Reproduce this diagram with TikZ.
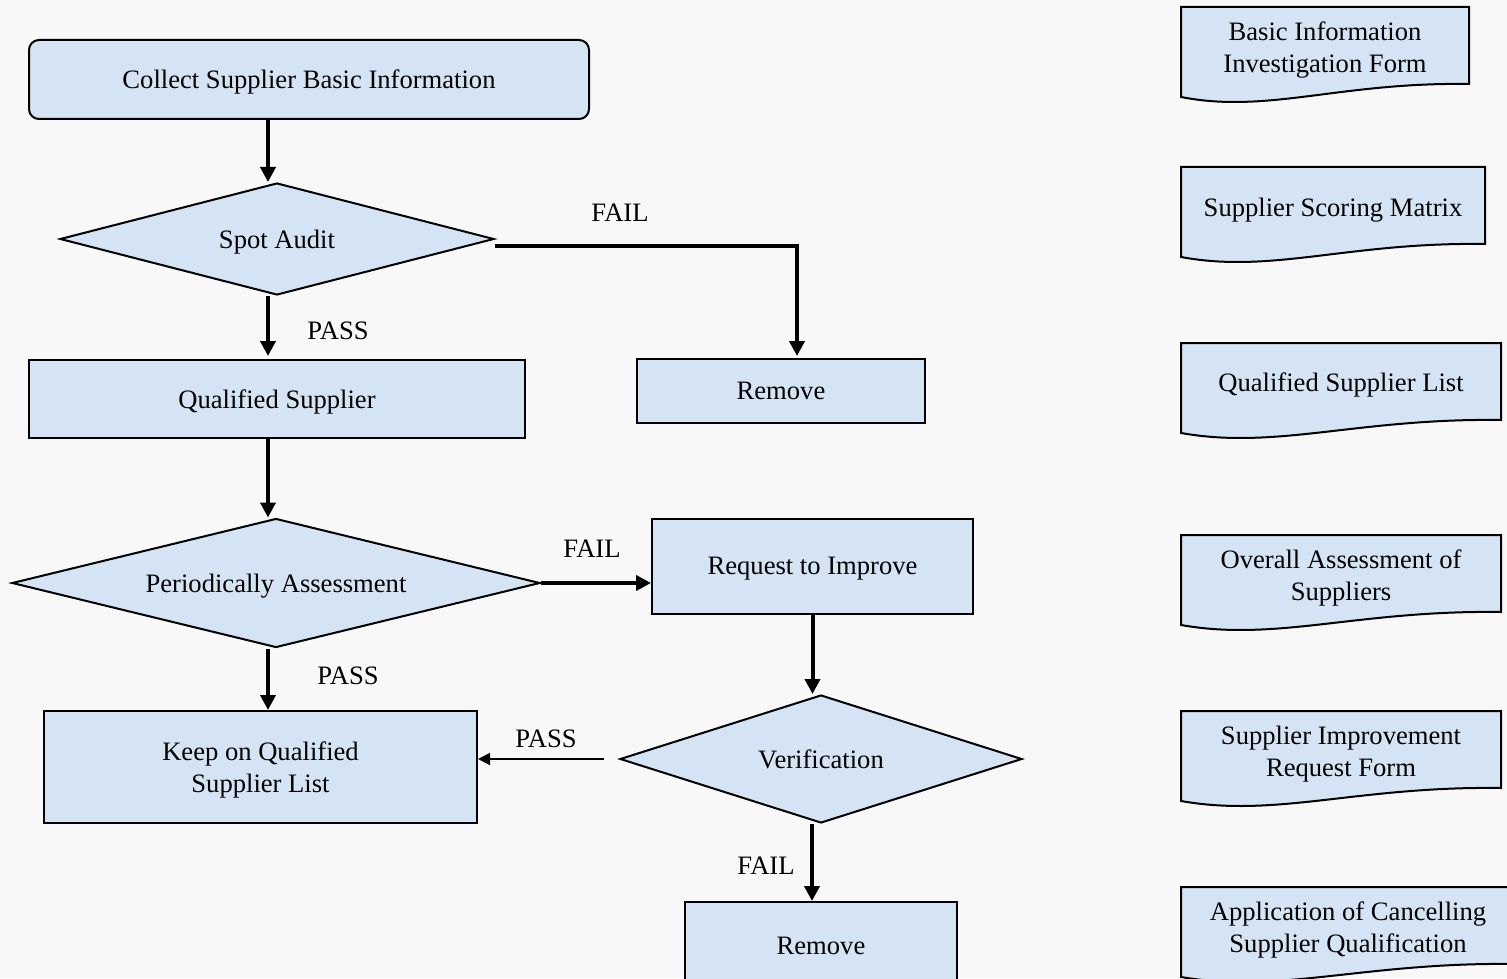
\documentclass[tikz,border=0pt]{standalone}
\usepackage{fontspec}
\setmainfont{Liberation Serif}
\usetikzlibrary{shapes.geometric,arrows.meta,calc}
\definecolor{boxblue}{RGB}{213,228,244}
\definecolor{bgcol}{RGB}{248,248,248}
\tikzset{
  every node/.style={font=\fontsize{13.3pt}{16pt}\selectfont, text=black},
  stepbox/.style={draw, line width=1pt, fill=boxblue, inner sep=0pt, align=center, text depth=0pt},
  decision/.style={diamond, draw, line width=1pt, fill=boxblue, inner sep=0pt, align=center, text depth=0pt},
  lbl/.style={inner sep=0pt},
  arr/.style={line width=2pt, -{Triangle[width=7.5pt,length=7.5pt]}},
  thinarr/.style={line width=1pt, -{Triangle[width=6pt,length=6pt]}},
  docline/.style={draw, line width=1pt, fill=boxblue}
}
\newcommand{\docshape}[4]{% x0, y0, x1, yb
  \path[docline] (#1,#2) -- (#3,#2) -- (#3,#4)
    .. controls ({#3-0.45*(#3-#1)},#4-2) and ({#1+0.3*(#3-#1)},#4+30) .. (#1,#4+13) -- cycle;
}
\begin{document}
\begin{tikzpicture}[x=0.5pt,y=-0.5pt]
\useasboundingbox (0,0) rectangle (1507,978);
\fill[bgcol] (0,0) rectangle (1507,978);
\begin{scope}
\clip (0,0) rectangle (1507,978);

% main flow nodes
\node[stepbox, rounded corners=5pt, minimum width=280pt, minimum height=39.5pt] (collect) at (309,79.5) {Collect Supplier Basic Information};
\node[decision, shape aspect=3.875, minimum width=217pt, minimum height=56pt] (spot) at (277,239) {Spot Audit};
\node[stepbox, minimum width=248pt, minimum height=39pt] (qual) at (277,399) {Qualified Supplier};
\node[stepbox, minimum width=144pt, minimum height=32pt] (rem1) at (781,391) {Remove};
\node[decision, shape aspect=4.09, minimum width=264pt, minimum height=64.5pt] (peri) at (276,583) {Periodically Assessment};
\node[stepbox, minimum width=160.5pt, minimum height=47.5pt] (req) at (812.5,566.5) {};
\node[lbl] (reqt) at (812.5,569) {Request to Improve};
\node[decision, shape aspect=3.14, minimum width=201pt, minimum height=64pt] (verif) at (821,759) {Verification};
\node[stepbox, minimum width=216.5pt, minimum height=56pt] (keep) at (260.5,767) {Keep on Qualified\\Supplier List};
\node[stepbox, minimum width=136pt, minimum height=42pt] (rem2) at (821,944) {};
\node[lbl] (rem2t) at (821,946) {Remove};

% labels
\node[lbl] (l1) at (338,331) {PASS};
\node[lbl] (l2) at (620,213) {FAIL};
\node[lbl] (l3) at (592,549) {FAIL};
\node[lbl] (l4) at (348,676) {PASS};
\node[lbl] (l5) at (546,739) {PASS};
\node[lbl] (l6) at (766,866) {FAIL};

% connectors
\draw[arr] ([xshift=-4.5pt]spot.north |- collect.south) -- ([xshift=-4.5pt]spot.north);
\draw[arr] ([xshift=-4.5pt]spot.south) -- ([xshift=-4.5pt,yshift=1.5pt]spot.south |- qual.north);
\draw[arr] ([yshift=-3.5pt]spot.east) -| ([xshift=8pt,yshift=1pt]rem1.north);
\draw[arr] ([xshift=-4.5pt]qual.south) -- ([xshift=-4.5pt]qual.south |- peri.north);
\draw[arr] (peri.east) -- (peri.east -| req.west);
\draw[arr] (req.south) -- (req.south |- verif.north);
\draw[arr] ([xshift=-4pt]peri.south) -- ([xshift=-4pt]peri.south |- keep.north);
\draw[thinarr] ([xshift=-7.5pt]verif.west) -- (verif.west -| keep.east);
\draw[arr] ([xshift=-4.5pt]verif.south) -- ([xshift=-4.5pt]verif.south |- rem2.north);

% documents
\docshape{1181}{7}{1469}{84}
\node[lbl, align=center] (d1) at (1325,50) {Basic Information\\Investigation Form};
\docshape{1181}{167}{1485}{244}
\node[lbl] (d2) at (1333,210) {Supplier Scoring Matrix};
\docshape{1181}{343}{1501}{420}
\node[lbl] (d3) at (1341,385) {Qualified Supplier List};
\docshape{1181}{535}{1501}{612}
\node[lbl, align=center] (d4) at (1341,578) {Overall Assessment of\\Suppliers};
\docshape{1181}{711}{1501}{788}
\node[lbl, align=center] (d5) at (1341,754) {Supplier Improvement\\Request Form};
\docshape{1181}{887}{1515}{964}
\node[lbl, align=center] (d6) at (1348,930) {Application of Cancelling\\Supplier Qualification};
\end{scope}
\end{tikzpicture}
\end{document}
